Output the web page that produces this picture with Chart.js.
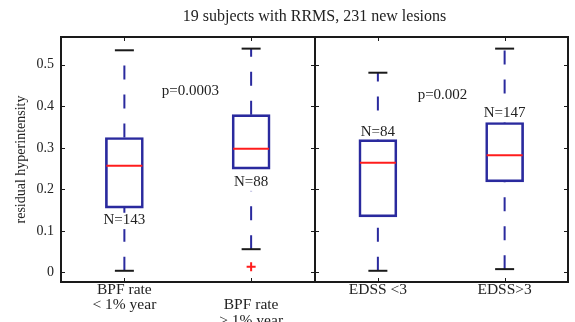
<!DOCTYPE html>
<html>
<head>
<meta charset="utf-8">
<script src="https://cdn.jsdelivr.net/npm/chart.js@4/dist/chart.umd.min.js"></script>
<style>
  html, body { margin: 0; padding: 0; background: #fff; overflow: hidden; }
  #wrap { width: 575px; height: 322px; position: relative; }
  canvas { display: block; }
</style>
</head>
<body>
<div id="wrap"><canvas id="chart"></canvas></div>
<script>
// Box plot data
const categories = [['BPF rate', '< 1% year'], ['', 'BPF rate', '> 1% year'], 'EDSS <3', 'EDSS>3'];
const whiskerLow = [0.004, 0.056, 0.004, 0.008];
const q1 = [0.155, 0.249, 0.134, 0.218];
const median = [0.257, 0.298, 0.264, 0.282];
const q3 = [0.325, 0.380, 0.320, 0.361];
const whiskerHigh = [0.535, 0.539, 0.481, 0.539];
const outliers = [[], [0.014], [], []];
const yTicks = [0, 0.1, 0.2, 0.3, 0.4, 0.5];

// Annotations
const groupSizes = ['N=143', 'N=88', 'N=84', 'N=147'];
const groupSizeY = [0.126, 0.218, 0.338, 0.384];
const pValues = ['p=0.0003', 'p=0.002'];
const pValueX = [0.52, 2.51];
const pValueY = [0.436, 0.426];
const groupSplit = 1.5;

const SERIF = "'Liberation Serif', 'Times New Roman', serif";
const BLUE = '#2a2a9e';
const RED = '#ff1c1c';
const INK = '#1a1a1a';

// whisker segments: upper from box top, lower from the end up to the box
const whiskerPts = [];
q3.forEach((v, i) => {
    whiskerPts.push({x: i, y: v}, {x: i, y: whiskerHigh[i]}, {x: i, y: null});
    whiskerPts.push({x: i, y: whiskerLow[i]}, {x: i, y: q1[i]}, {x: i, y: null});
});

const caps = [];
whiskerLow.forEach((v, i) => { caps.push({x: i, y: v}, {x: i, y: whiskerHigh[i]}); });

const outlierPts = [];
outliers.forEach((list, i) => list.forEach(v => outlierPts.push({x: i, y: v})));

// frame, inward ticks, divider and text labels
const framePlugin = {
    id: 'frame',
    afterDatasetsDraw(chart) {
        const {ctx, chartArea: a, scales: {x, y}} = chart;
        ctx.save();
        ctx.strokeStyle = INK;
        ctx.lineWidth = 1;
        const mx = Math.round(x.getPixelForValue(groupSplit));
        ctx.beginPath();
        yTicks.forEach(v => {
            const py = Math.round(y.getPixelForValue(v)) + 0.5;
            ctx.moveTo(a.left, py); ctx.lineTo(a.left + 4, py);
            ctx.moveTo(a.right, py); ctx.lineTo(a.right - 4, py);
            ctx.moveTo(mx - 4, py); ctx.lineTo(mx + 4, py);
        });
        categories.forEach((c, i) => {
            const px = Math.round(x.getPixelForValue(i)) + 0.5;
            ctx.moveTo(px, a.top); ctx.lineTo(px, a.top + 4);
            ctx.moveTo(px, a.bottom); ctx.lineTo(px, a.bottom - 4);
        });
        ctx.stroke();

        ctx.lineWidth = 2;
        ctx.strokeRect(a.left, a.top, a.right - a.left, a.bottom - a.top);
        ctx.beginPath();
        ctx.moveTo(mx, a.top); ctx.lineTo(mx, a.bottom);
        ctx.stroke();

        ctx.font = '15px ' + SERIF;
        ctx.textAlign = 'center';
        ctx.textBaseline = 'middle';
        groupSizes.forEach((t, i) => {
            const px = x.getPixelForValue(i);
            const py = y.getPixelForValue(groupSizeY[i]);
            const w = ctx.measureText(t).width;
            // white backing so the dashed whisker does not run through the label
            const below = groupSizeY[i] < q1[i];
            const top = below ? py - 7 : py - 9;
            const bottom = below ? py + 9 : Math.min(py + 9, y.getPixelForValue(q3[i]) - 0.5);
            ctx.fillStyle = '#fff';
            ctx.fillRect(px - w / 2 - 1, top, w + 2, bottom - top);
            ctx.fillStyle = '#222';
            ctx.fillText(t, px, py);
        });
        pValues.forEach((t, i) => {
            ctx.fillStyle = '#222';
            ctx.fillText(t, x.getPixelForValue(pValueX[i]), y.getPixelForValue(pValueY[i]));
        });
        ctx.restore();
    }
};

const chart = new Chart(document.getElementById('chart'), {
    type: 'bar',
    data: {
        datasets: [{
            type: 'line',
            data: whiskerPts,
            borderColor: BLUE,
            borderWidth: 2,
            borderDash: [14, 15],
            pointRadius: 0,
            spanGaps: false,
            order: 4
        }, {
            type: 'bar',
            data: q1.map((v, i) => ({x: i, y: [v, q3[i]]})),
            backgroundColor: 'rgba(0,0,0,0)',
            borderColor: BLUE,
            borderWidth: 2,
            borderSkipped: false,
            barThickness: 38,
            order: 3
        }, {
            type: 'line',
            data: caps,
            showLine: false,
            pointStyle: 'line',
            pointRadius: 9.5,
            pointBorderWidth: 2,
            pointBorderColor: INK,
            order: 2
        }, {
            type: 'line',
            data: median.map((v, i) => ({x: i, y: v})),
            showLine: false,
            pointStyle: 'line',
            pointRadius: 18,
            pointBorderWidth: 2,
            pointBorderColor: RED,
            order: 1
        }, {
            type: 'line',
            data: outlierPts,
            showLine: false,
            pointStyle: 'cross',
            pointRadius: 4.5,
            pointBorderWidth: 2,
            pointBorderColor: RED,
            order: 0
        }]
    },
    options: {
        responsive: true,
        maintainAspectRatio: false,
        animation: false,
        events: [],
        layout: { autoPadding: false, padding: { left: 0, right: 7, top: 0, bottom: 0 } },
        plugins: {
            legend: { display: false },
            tooltip: { enabled: false },
            title: {
                display: true,
                fullSize: false,
                text: '19 subjects with RRMS, 231 new lesions',
                color: '#222',
                font: { family: SERIF, size: 16, weight: 'normal', lineHeight: 1.2 },
                padding: { top: 7, bottom: 10.8 }
            }
        },
        scales: {
            x: {
                type: 'linear',
                offset: false,
                min: -0.5,
                max: 3.5,
                afterBuildTicks: scale => { scale.ticks = categories.map((c, i) => ({value: i})); },
                afterFit: scale => { scale.height = 40; scale.paddingLeft = 0; scale.paddingRight = 0; },
                grid: { display: false, drawTicks: false, offset: false },
                border: { display: false },
                ticks: {
                    autoSkip: false,
                    maxRotation: 0,
                    padding: 0,
                    color: '#222',
                    font: { family: SERIF, size: 15.5, lineHeight: 1.0 },
                    callback: v => categories[v]
                }
            },
            y: {
                min: -0.023,
                max: 0.567,
                afterBuildTicks: scale => { scale.ticks = yTicks.map(v => ({value: v})); },
                afterFit: scale => { scale.width = 61; },
                grid: { display: false, drawTicks: false },
                border: { display: false },
                ticks: {
                    padding: 7,
                    color: '#222',
                    font: { family: SERIF, size: 14 },
                    callback: v => (v === 0 ? '0' : v.toFixed(1))
                },
                title: {
                    display: true,
                    text: 'residual hyperintensity',
                    color: '#222',
                    font: { family: SERIF, size: 14 },
                    padding: { top: 13, bottom: 0 }
                }
            }
        }
    },
    plugins: [framePlugin]
});
</script>
</body>
</html>
